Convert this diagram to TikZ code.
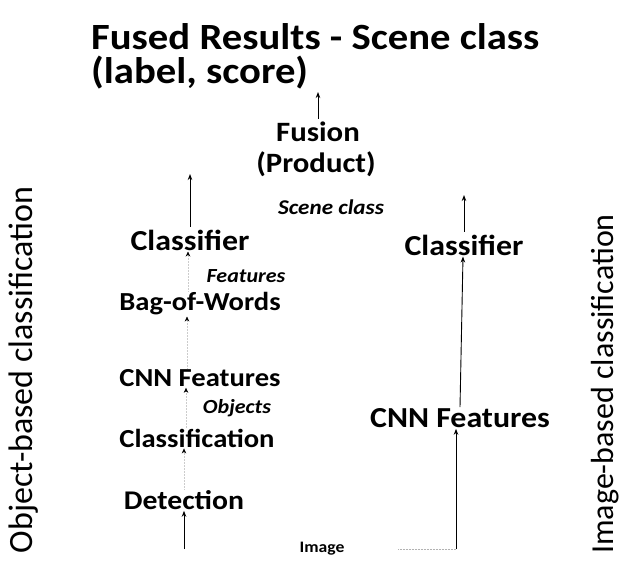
\documentclass[tikz,border=0pt]{standalone}
\usepackage{fontspec}
\setmainfont{Carlito}[FakeStretch=1.1]
\newfontfamily\sidefont{Carlito}
\usetikzlibrary{arrows.meta}
\tikzset{
  lbl/.style={inner sep=1pt, font=\bfseries\fontsize{#1}{#1}\selectfont},
  tag/.style={inner sep=1pt, font=\bfseries\itshape\fontsize{#1}{#1}\selectfont},
  side/.style={rotate=90, inner sep=0pt, font=\sidefont\fontsize{#1}{#1}\selectfont},
  arr/.style={line width=0.9pt, -{Stealth[length=6pt,width=4.5pt]}},
  faint/.style={line width=0.5pt, draw=black!20, densely dotted, -{Stealth[length=5pt,width=4.5pt,black]}},
}
\begin{document}
\begin{tikzpicture}[x=1pt, y=-1pt]
\useasboundingbox (0,0) rectangle (629,563);

% heading
\node[lbl=37, anchor=base west] (title1) at (90,49) {Fused Results - Scene class};
\node[lbl=37, anchor=base west] (title2) at (90,83) {(label, score)};

% fusion stage
\node[lbl=28] (fusion) at (318,132) {Fusion};
\node[lbl=28] (product) at (316,164) {(Product)};
\node[tag=21] (scene) at (331,207) {Scene class};

% object-based branch
\node[lbl=29] (clfL) at (190,240) {Classifier};
\node[tag=20] (feat) at (246,276) {Features};
\node[lbl=26] (bow) at (200,304) {Bag-of-Words};
\node[lbl=26] (cnnL) at (200,378) {CNN Features};
\node[tag=20] (objs) at (237,408) {Objects};
\node[lbl=26] (cls) at (197,438) {Classification};
\node[lbl=27] (det) at (184,500) {Detection};

% image-based branch
\node[lbl=29] (clfR) at (464,245) {Classifier};
\node[lbl=29] (cnnR) at (460,418) {CNN Features};

% input
\node[lbl=16] (img) at (322,549) {Image};

% side captions
\node[side=34] (objlab) at (24,370) {Object-based classification};
\node[side=32] (imglab) at (605,384) {Image-based classification};

% loose ends
\coordinate (top) at (318,92);
\coordinate (upL) at (190,174);
\coordinate (upR) at (464,195);
\coordinate (inL) at (184,549);
\coordinate (inR) at (456,549);
\coordinate (dotEnd) at (398,549);

% connectors
\draw[arr] (fusion.north) ++(0,-2) -- (top);
\draw[arr] (clfL.north) ++(0,-2) -- (upL);
\draw[arr] (clfR.north) ++(0,-2) -- (upR);
\draw[faint] (bow.north -| 188,0) -- (clfL.south -| 188,0);
\draw[faint] (cnnL.north -| 187,0) -- (bow.south -| 187,0);
\draw[faint] (cls.north -| 186,0) -- (cnnL.south -| 186,0);
\draw[faint] (det.north -| 184,0) -- (cls.south -| 184,0);
\draw[arr] (inL) -- (det.south -| inL);
\draw[arr] (inR) -- (cnnR.south -| inR);
\draw[arr] (cnnR.north -| 460,0) -- (clfR.south -| 463,0);
\draw[line width=0.5pt, draw=black!30, densely dotted] (dotEnd) -- (inR);
\end{tikzpicture}
\end{document}
